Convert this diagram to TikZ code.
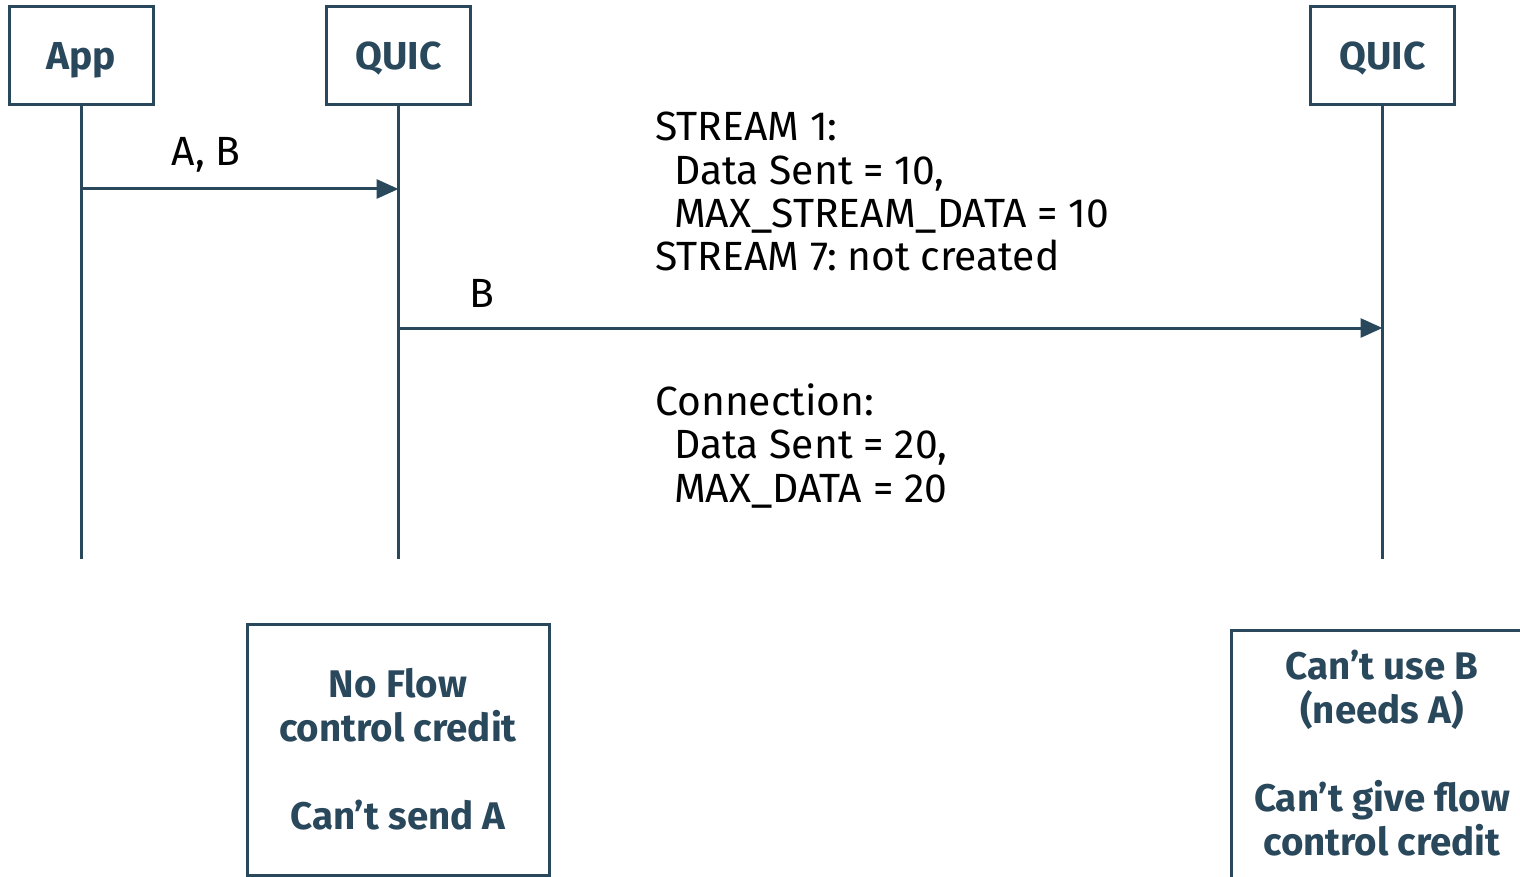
\documentclass[tikz,border=0pt]{standalone}
\usepackage{fontspec}
\setmainfont{Fira Sans}
\usetikzlibrary{arrows.meta}
\definecolor{slate}{RGB}{42,72,92}
\tikzset{
  actor/.style={draw=slate, line width=3pt, minimum width=144pt, minimum height=98pt, inner sep=0pt,
    text height=27pt, text depth=0pt,
    text=slate, font=\fontsize{39}{44}\selectfont\bfseries},
  life/.style={draw=slate, line width=3pt},
  msg/.style={draw=slate, line width=3pt, -{Triangle[length=22pt,width=19pt]}},
  lbl/.style={inner sep=0pt, text=black, font=\fontsize{40.8}{43.4}\selectfont, align=left},
  notebox/.style={draw=slate, line width=3pt, inner sep=0pt, text=slate, align=center,
    font=\fontsize{38.5}{44}\selectfont\bfseries},
}
\begin{document}
\begin{tikzpicture}[x=1pt,y=-1pt]
\useasboundingbox (0,0) rectangle (1520,877);
\fill[white] (0,0) rectangle (1520,877);
\node[actor] (app) at (81,56) {App};
\node[actor] (q1) at (398.5,56) {QUIC};
\node[actor] (q2) at (1382.5,56) {QUIC};
\coordinate (appEnd) at (81,559);
\coordinate (q1End) at (398.5,559);
\coordinate (q2End) at (1382.5,559);
\draw[life] (app.south) -- (appEnd);
\draw[life] (q1.south) -- (q1End);
\draw[life] (q2.south) -- (q2End);
\coordinate (m1s) at (81,189);
\coordinate (m1e) at (398.5,189);
\coordinate (m2s) at (398.5,328);
\coordinate (m2e) at (1382.5,328);
\draw[msg] (m1s) -- (m1e);
\draw[msg] (m2s) -- (m2e);
\node[lbl, anchor=base] (lab1) at (206,166) {A, B};
\node[lbl, anchor=base] (lab2) at (482,308) {B};
\node[lbl, anchor=base west] (stream) at (655,271) {STREAM 1:\\\hspace*{19pt}Data Sent = 10,\\\hspace*{19pt}MAX\_STREAM\_DATA = 10\\STREAM 7:\hspace{-4pt} not created};
\node[lbl, anchor=base west] (conn) at (655,502) {Connection:\\\hspace*{19pt}Data Sent = 20,\\\hspace*{19pt}MAX\_DATA = 20};
\node[notebox, minimum width=302pt, minimum height=251pt] (lbox) at (398,749.5) {No Flow\\control credit\\[44pt]Can’t send A};
\node[notebox, minimum width=302pt, minimum height=262pt] (rbox) at (1382,761) {};
\node[notebox, draw=none] (rtext) at (1382,753) {Can’t use B\\(needs A)\\[44pt]Can’t give flow\\control credit};
\end{tikzpicture}
\end{document}
